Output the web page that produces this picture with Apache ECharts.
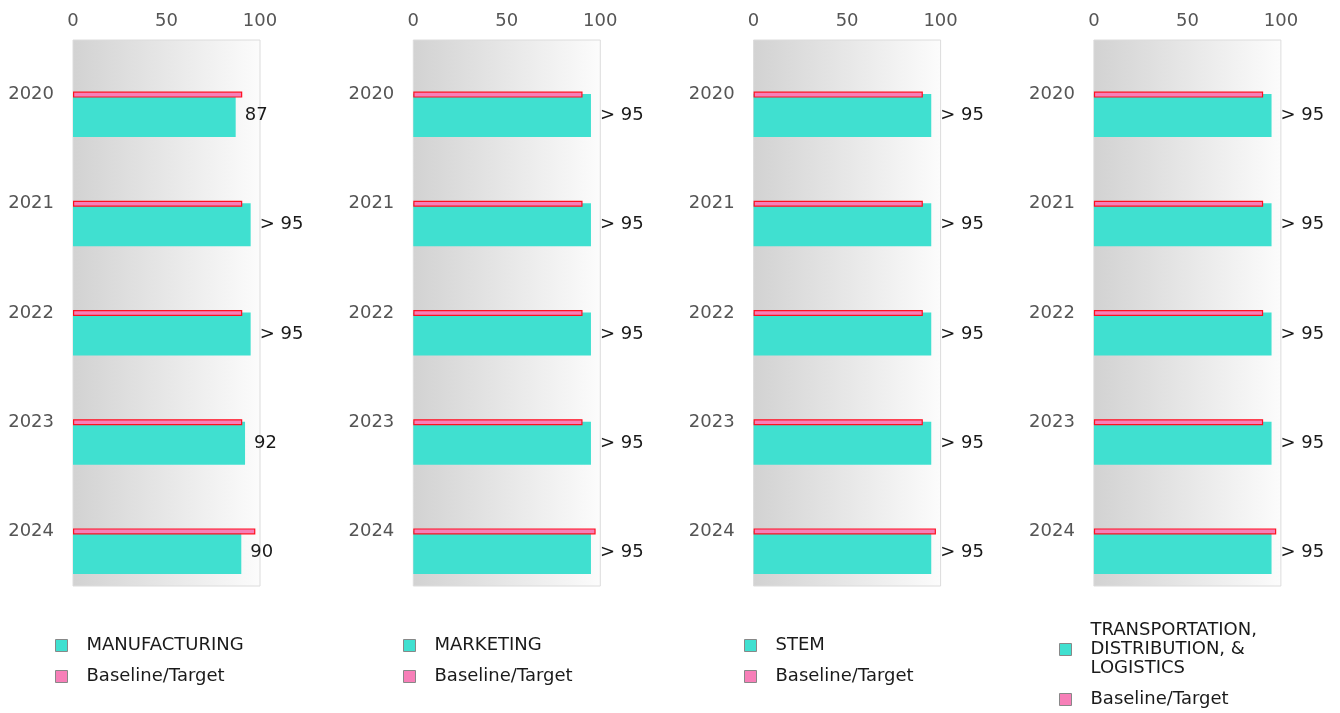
<!DOCTYPE html>
<html>
<head>
<meta charset="utf-8">
<script src="https://cdn.jsdelivr.net/npm/echarts@6/dist/echarts.min.js"></script>
<style>
  html, body { margin: 0; padding: 0; background: #fff; }
  #chart { width: 1340px; height: 713px; }
</style>
</head>
<body>
<div id="chart"></div>
<script>
// categories
var years = ['2020', '2021', '2022', '2023', '2024']
var xTicks = [0, 50, 100]

// one panel per career cluster
var clusters = ['MANUFACTURING', 'MARKETING', 'STEM', 'TRANSPORTATION,\nDISTRIBUTION, &\nLOGISTICS']

// bar values (95 = suppressed, shown as "> 95")
var manufacturing = [87, 95, 95, 92, 90]
var marketing = [95, 95, 95, 95, 95]
var stem = [95, 95, 95, 95, 95]
var transportation = [95, 95, 95, 95, 95]

// baseline / target per year
var baseline = [90.5, 90.5, 90.5, 90.5, 97.5]

var clusterValues = [manufacturing, marketing, stem, transportation]

var font = 'DejaVu Sans'
var panelStep = 340.3
var plotLeft = 73
var plotWidth = 187
var plotTop = 40
var plotHeight = 546
var legendLeft = [55, 403, 744, 1059]
var legendTop = [636, 636, 636, 621]

var myChart = echarts.init(document.getElementById('chart'))

var grids = []
var xAxes = []
var yAxes = []
var series = []
var legends = []

clusters.forEach(function (name, i) {
  var left = plotLeft + panelStep * i

  // grid A: visible axes, background, baseline bars
  grids.push({
    left: left,
    top: plotTop,
    width: plotWidth,
    height: plotHeight,
    show: true,
    borderColor: '#dcdcdc',
    borderWidth: 1,
    backgroundColor: new echarts.graphic.LinearGradient(0, 0, 1, 0, [
      { offset: 0, color: '#d2d2d2' },
      { offset: 1, color: '#fcfcfc' }
    ])
  })
  // grid B: same size, pushed down so the cluster bar sits under the baseline
  grids.push({
    left: left,
    top: plotTop + 21,
    width: plotWidth,
    height: plotHeight
  })

  xAxes.push({
    gridIndex: 2 * i,
    type: 'value',
    position: 'top',
    min: xTicks[0],
    max: xTicks[xTicks.length - 1],
    interval: xTicks[1] - xTicks[0],
    axisLine: { show: false },
    axisTick: { show: false },
    splitLine: { show: false },
    axisLabel: { color: '#555', fontSize: 18, fontFamily: font, margin: 10 }
  })
  xAxes.push({
    gridIndex: 2 * i + 1,
    type: 'value',
    min: xTicks[0],
    max: xTicks[xTicks.length - 1],
    show: false
  })

  yAxes.push({
    gridIndex: 2 * i,
    type: 'category',
    inverse: true,
    data: years,
    axisLine: { show: false },
    axisTick: { show: false },
    splitLine: { show: false },
    axisLabel: { color: '#555', fontSize: 18, fontFamily: font, margin: 19 }
  })
  yAxes.push({
    gridIndex: 2 * i + 1,
    type: 'category',
    inverse: true,
    data: years,
    show: false
  })

  series.push({
    name: 'Baseline/Target',
    type: 'bar',
    xAxisIndex: 2 * i,
    yAxisIndex: 2 * i,
    barWidth: 6,
    z: 3,
    itemStyle: { color: '#f77fb8', borderColor: '#ff1020', borderWidth: 1.2 },
    data: baseline
  })
  series.push({
    name: name,
    type: 'bar',
    xAxisIndex: 2 * i + 1,
    yAxisIndex: 2 * i + 1,
    barWidth: 43,
    itemStyle: { color: '#40e0d0' },
    label: {
      show: true,
      position: 'right',
      distance: 9,
      color: '#1a1a1a',
      fontSize: 18,
      fontFamily: font,
      formatter: function (p) {
        return p.value >= 95 ? '> 95' : String(p.value)
      }
    },
    data: clusterValues[i]
  })

  legends.push({
    orient: 'vertical',
    left: legendLeft[i],
    top: legendTop[i],
    padding: 0,
    itemWidth: 12,
    itemHeight: 12,
    itemGap: 12,
    icon: 'rect',
    selectedMode: false,
    itemStyle: { borderColor: '#888', borderWidth: 1 },
    textStyle: {
      color: '#1a1a1a',
      fontSize: 18,
      fontFamily: font,
      lineHeight: 19,
      padding: [0, 0, 0, 14]
    },
    data: [name, 'Baseline/Target']
  })
})

var option = {
  animation: false,
  textStyle: { fontFamily: font },
  grid: grids,
  xAxis: xAxes,
  yAxis: yAxes,
  legend: legends,
  series: series
}

myChart.setOption(option)
</script>
</body>
</html>
